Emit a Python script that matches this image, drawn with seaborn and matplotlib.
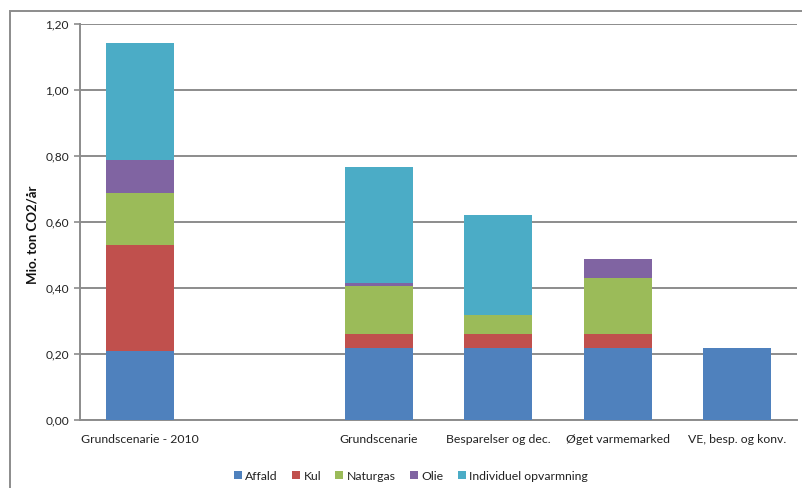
import numpy as np
import pandas as pd
import matplotlib
matplotlib.use("Agg")
import matplotlib.pyplot as plt
import seaborn as sns
from matplotlib.patches import Rectangle

categories = ["Grundscenarie - 2010", " ", "Grundscenarie", "Besparelser og dec.",
              "Øget varmemarked", "VE, besp. og konv."]
affald = [0.21, 0.0, 0.22, 0.22, 0.22, 0.22]
kul = [0.32, 0.0, 0.04, 0.04, 0.04, 0.0]
naturgas = [0.157, 0.0, 0.148, 0.058, 0.171, 0.0]
olie = [0.10, 0.0, 0.008, 0.0, 0.058, 0.0]
individuel = [0.354, 0.0, 0.351, 0.303, 0.0, 0.0]
series_names = ["Affald", "Kul", "Naturgas", "Olie", "Individuel opvarmning"]
series_values = [affald, kul, naturgas, olie, individuel]
colors = ["#4F81BD", "#C0504D", "#9BBB59", "#8064A2", "#4BACC6"]
yticks = [0.0, 0.2, 0.4, 0.6, 0.8, 1.0, 1.2]
ytick_labels = ["0,00", "0,20", "0,40", "0,60", "0,80", "1,00", "1,20"]
ylabel = "Mio. ton CO2/år"

sns.set_style("white")
plt.rcParams['font.family'] = ['Lato', 'DejaVu Sans']

fig = plt.figure(figsize=(8.03, 4.88), dpi=100)
ax = fig.add_axes([80/803, 1-420.3/488, 717/803, (420.3-24)/488])

bottom = np.zeros(len(categories))
for name, vals, c in zip(series_names, series_values, colors):
    df = pd.DataFrame({"cat": categories, "val": vals})
    sns.barplot(data=df, x="cat", y="val", order=categories, bottom=bottom,
                color=c, saturation=1, width=0.57, ax=ax, label=name,
                linewidth=0, errorbar=None, zorder=3)
    bottom = bottom + np.array(vals)

ax.set_ylim(0, 1.2)
ax.set_xlim(-0.5, len(categories) - 0.5)
ax.set_yticks(yticks)
ax.set_yticklabels(ytick_labels)
ax.yaxis.grid(True, color="#8c8c8c", linewidth=1.4, zorder=0)
ax.set_axisbelow(True)
for s in ["top", "right"]:
    ax.spines[s].set_visible(False)
for s in ["left", "bottom"]:
    ax.spines[s].set_color("#8c8c8c")
    ax.spines[s].set_linewidth(1.4)
ax.tick_params(axis="y", length=4, width=1.2, color="#8c8c8c", pad=4,
               labelsize=8.6, labelcolor="#222222", left=True)
ax.tick_params(axis="x", length=0, pad=10, labelsize=8.8, labelcolor="#222222")
ax.set_xlabel("")
ax.set_ylabel("")
fig.text(33/803, 1-235/488, ylabel, rotation=90, ha="center", va="center",
         fontsize=9.5, fontweight="bold", color="#111111")

ax.legend(loc="center", bbox_to_anchor=(411/803, 1-476/488),
          bbox_transform=fig.transFigure, ncol=5, frameon=False,
          fontsize=8.8, handlelength=0.65, handleheight=0.65,
          handletextpad=0.3, columnspacing=1.15, labelcolor="#222222")

fig.patches.append(Rectangle((10/803, -0.01), 1.0, 1 - 11/488 + 0.01,
                             transform=fig.transFigure, fill=False,
                             edgecolor="#8c8c8c", linewidth=1.4))

fig.savefig("out.png", dpi=100)
